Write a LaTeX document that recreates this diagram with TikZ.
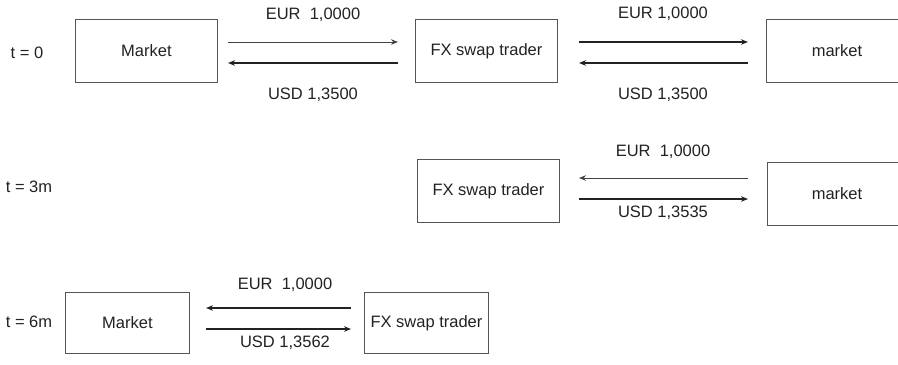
\documentclass[tikz,border=0pt]{standalone}
\usepackage{fontspec}
\setmainfont{Liberation Sans}
\usetikzlibrary{arrows.meta}
\definecolor{ink}{HTML}{222222}
\definecolor{frame}{HTML}{555555}
\begin{document}
\begin{tikzpicture}[x=1bp,y=-1bp,
  every node/.style={font=\fontsize{16.5bp}{19bp}\selectfont, text=ink, inner sep=0pt},
  boxnode/.style={draw=frame, line width=0.9bp, minimum height=63bp, anchor=north west},
  thinarr/.style={draw=ink!85, line width=0.9bp, -{Stealth[length=7bp,width=5.5bp]}},
  thickarr/.style={draw=ink, line width=1.4bp, -{Stealth[length=7bp,width=5.5bp]}}]
\useasboundingbox (0,0) rectangle (898,364);
% labels of time
\node (t0) at (27,53) {t = 0};
\node (t3) at (29,187) {t = 3m};
\node (t6) at (29,322) {t = 6m};
% row 1
\node[boxnode, minimum width=142bp] (m1) at (75,19) {};
\node at (m1.center) {Market};
\node[boxnode, minimum width=142bp] (f1) at (415,19) {};
\node at (f1.center) {FX swap trader};
\node (r1) at (837,50.5) {market};
\draw[frame, line width=0.9bp] (905,19) -- (766,19) -- (766,82) -- (905,82);
\coordinate (a1l) at (228,42); \coordinate (a1r) at (398,42);
\coordinate (b1l) at (228,63); \coordinate (b1r) at (398,63);
\draw[thinarr] (a1l) -- (a1r);
\draw[thickarr] (b1r) -- (b1l);
\node (e1) at (313,15) {EUR\ \ 1,0000};
\node (u1) at (313,95) {USD 1,3500};
\coordinate (c1l) at (579,42); \coordinate (c1r) at (748,42);
\coordinate (d1l) at (579,63); \coordinate (d1r) at (748,63);
\draw[thickarr] (c1l) -- (c1r);
\draw[thickarr] (d1r) -- (d1l);
\node (e2) at (663,14) {EUR 1,0000};
\node (u2) at (663,95) {USD 1,3500};
% row 2
\node[boxnode, minimum width=142bp] (f2) at (417,159) {};
\node at (f2.center) {FX swap trader};
\node (r2) at (837,193.5) {market};
\draw[frame, line width=0.9bp] (905,162) -- (767,162) -- (767,225) -- (905,225);
\coordinate (a2l) at (579,178); \coordinate (a2r) at (748,178);
\coordinate (b2l) at (579,199); \coordinate (b2r) at (748,199);
\draw[thinarr] (a2r) -- (a2l);
\draw[thickarr] (b2l) -- (b2r);
\node (e3) at (663,152) {EUR\ \ 1,0000};
\node (u3) at (663,213) {USD 1,3535};
% row 3
\node[boxnode, minimum width=124bp, minimum height=61bp] (m3) at (65,292) {};
\node at (m3.center) {Market};
\node[boxnode, minimum width=124bp, minimum height=61bp] (f3) at (364,292) {};
\node at (f3.center) {FX swap trader};
\coordinate (a3l) at (206,308); \coordinate (a3r) at (351,308);
\coordinate (b3l) at (206,329); \coordinate (b3r) at (351,329);
\draw[thickarr] (a3r) -- (a3l);
\draw[thickarr] (b3l) -- (b3r);
\node (e4) at (285,285) {EUR\ \ 1,0000};
\node (u4) at (285,343) {USD 1,3562};
\end{tikzpicture}
\end{document}
